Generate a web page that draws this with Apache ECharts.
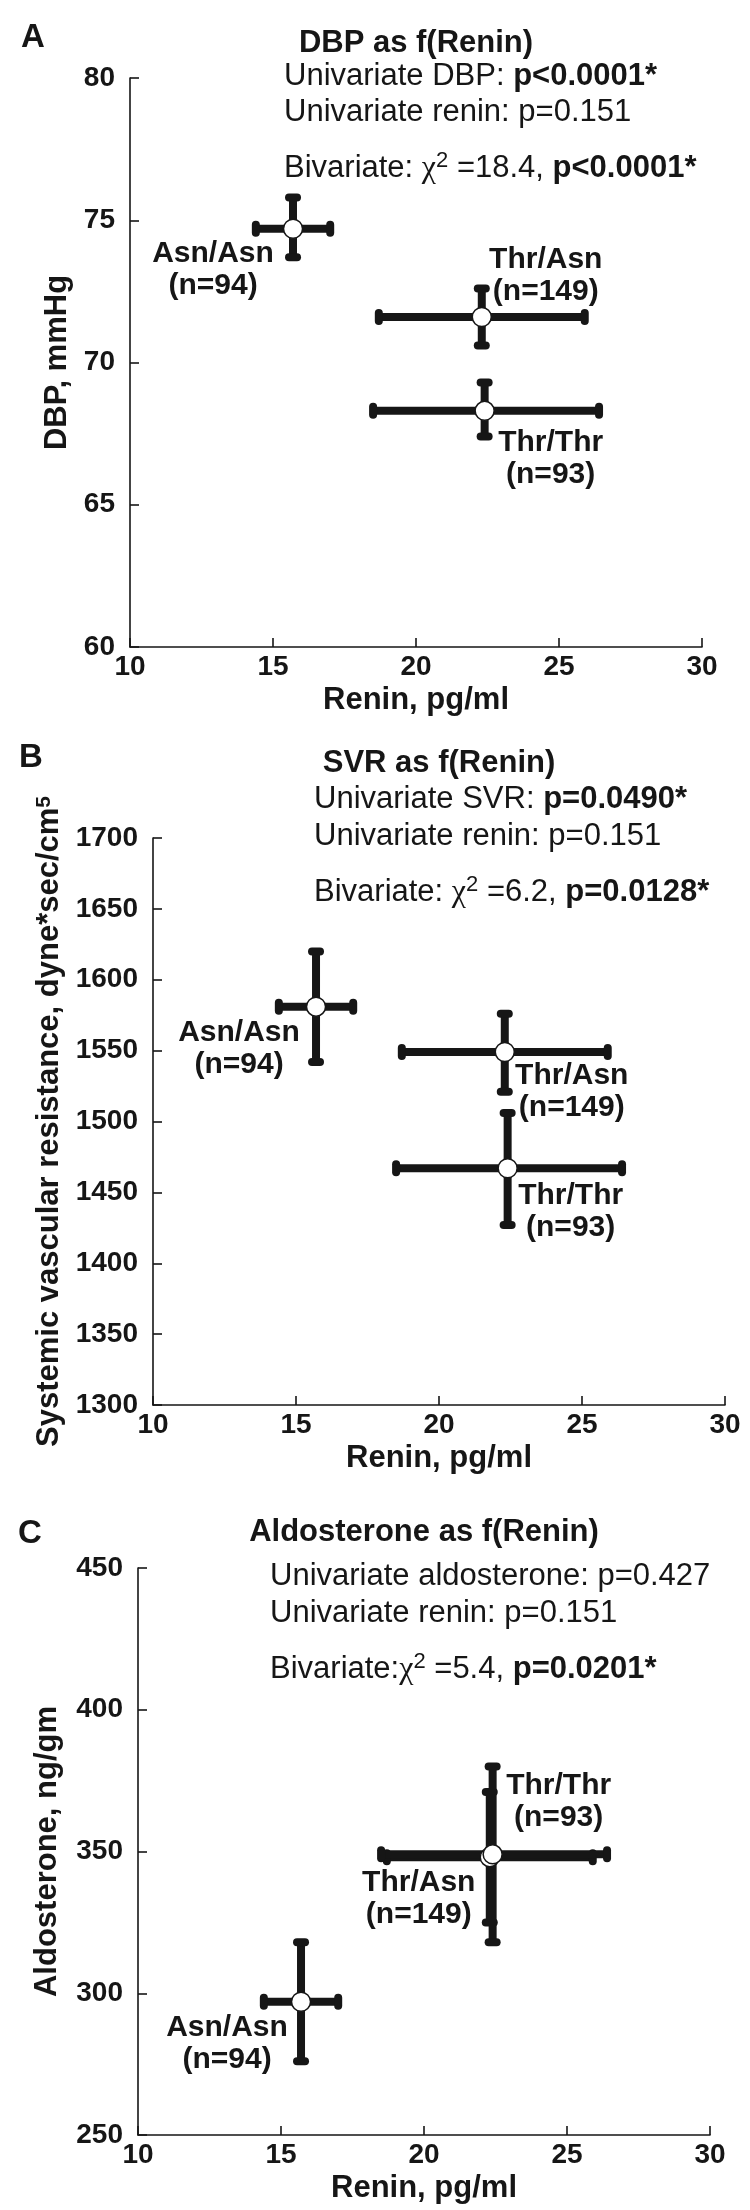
<!DOCTYPE html>
<html>
<head>
<meta charset="utf-8">
<title>DBP, SVR and aldosterone as f(Renin)</title>
<script src="https://cdn.jsdelivr.net/npm/echarts@6/dist/echarts.min.js"></script>
<style>
  html, body { margin: 0; padding: 0; background: #fff; }
  #eChart { width: 750px; height: 2210px; }
</style>
</head>
<body>
<div id="eChart"></div>
<script>
// genotype groups
var genotypes = ['Asn/Asn', 'Thr/Asn', 'Thr/Thr'];
var groupN = [94, 149, 93];

// renin, pg/ml (mean and error bar ends)
var reninMean = [15.7, 22.3, 22.4];
var reninLow = [14.4, 18.7, 18.5];
var reninHigh = [17.0, 25.9, 26.4];

// DBP, mmHg
var dbpMean = [74.7, 71.6, 68.3];
var dbpLow = [73.7, 70.6, 67.4];
var dbpHigh = [75.8, 72.6, 69.3];

// SVR, dyne*sec/cm5
var svrMean = [1581, 1549, 1467];
var svrLow = [1542, 1521, 1427];
var svrHigh = [1620, 1576, 1506];

// aldosterone, ng/gm
var aldoMean = [297, 348, 349];
var aldoLow = [276, 325, 318];
var aldoHigh = [318, 371, 380];

// axis ranges
var reninAxis = [10, 30, 5];
var dbpAxis = [60, 80, 5];
var svrAxis = [1300, 1700, 50];
var aldoAxis = [250, 450, 50];

// stats text
var statsA = ['Univariate DBP: {b|p<0.0001*}', 'Univariate renin: p=0.151', 'Bivariate: {chi|\u03c7}{sup|2} =18.4, {b|p<0.0001*}'];
var statsB = ['Univariate SVR: {b|p=0.0490*}', 'Univariate renin: p=0.151', 'Bivariate: {chi|\u03c7}{sup|2} =6.2, {b|p=0.0128*}'];
var statsC = ['Univariate aldosterone: p=0.427', 'Univariate renin: p=0.151', 'Bivariate:{chi|\u03c7}{sup|2} =5.4, {b|p=0.0201*}'];

var FONT = "'Liberation Sans', Arial, Helvetica, sans-serif";
var INK = '#161616';

var panels = [
    {
        letter: 'A', title: 'DBP as f(Renin)', yName: 'DBP, mmHg',
        mean: dbpMean, low: dbpLow, high: dbpHigh, yAxis: dbpAxis, stats: statsA,
        grid: { left: 130, top: 78, width: 572, height: 569 },
        nameGap: 55, letterPos: [33, 20], titleY: 25, statsX: 284, statsY: [58, 94, 150],
        offsets: [[-80, 41], [64, -41], [66, 48]]
    },
    {
        letter: 'B', title: 'SVR as f(Renin)', yName: 'Systemic vascular resistance, dyne*sec/cm{sup|5}',
        mean: svrMean, low: svrLow, high: svrHigh, yAxis: svrAxis, stats: statsB,
        grid: { left: 153, top: 838, width: 572, height: 567 },
        nameGap: 86, letterPos: [31, 740], titleY: 745, statsX: 314, statsY: [781, 818, 874],
        offsets: [[-77, 42], [67, 40], [63, 43]]
    },
    {
        letter: 'C', title: 'Aldosterone as f(Renin)', yName: 'Aldosterone, ng/gm',
        mean: aldoMean, low: aldoLow, high: aldoHigh, yAxis: aldoAxis, stats: statsC,
        grid: { left: 138, top: 1568, width: 572, height: 567 },
        nameGap: 75, letterPos: [30, 1516], titleY: 1514, statsX: 270, statsY: [1558, 1595, 1651],
        offsets: [[-74, 42], [-71, 42], [66, -53]]
    }
];

function makeRender(offsets) {
    return function (params, api) {
        var off = offsets[params.dataIndex];
        var c = api.coord([api.value(0), api.value(1)]);
        var l = api.coord([api.value(2), api.value(1)]);
        var r = api.coord([api.value(3), api.value(1)]);
        var b = api.coord([api.value(0), api.value(4)]);
        var t = api.coord([api.value(0), api.value(5)]);
        var bar = { stroke: INK, lineWidth: 8 };
        var cap = { stroke: INK, lineWidth: 8, lineCap: 'round' };
        var h = 4;
        return {
            type: 'group',
            children: [
                { type: 'line', shape: { x1: l[0], y1: l[1], x2: r[0], y2: r[1] }, style: bar },
                { type: 'line', shape: { x1: t[0], y1: t[1], x2: b[0], y2: b[1] }, style: bar },
                { type: 'line', shape: { x1: l[0], y1: l[1] - h, x2: l[0], y2: l[1] + h }, style: cap },
                { type: 'line', shape: { x1: r[0], y1: r[1] - h, x2: r[0], y2: r[1] + h }, style: cap },
                { type: 'line', shape: { x1: t[0] - h, y1: t[1], x2: t[0] + h, y2: t[1] }, style: cap },
                { type: 'line', shape: { x1: b[0] - h, y1: b[1], x2: b[0] + h, y2: b[1] }, style: cap },
                { type: 'circle', z2: 10, shape: { cx: c[0], cy: c[1], r: 9.5 }, style: { fill: '#fff', stroke: INK, lineWidth: 1.5 } },
                {
                    type: 'text', z2: 11, x: c[0] + off[0], y: c[1] + off[1],
                    style: {
                        text: genotypes[params.dataIndex] + '\n(n=' + groupN[params.dataIndex] + ')',
                        fill: INK, fontFamily: FONT, fontWeight: 'bold', fontSize: 30, lineHeight: 32,
                        align: 'center', verticalAlign: 'middle'
                    }
                }
            ]
        };
    };
}

var richStats = {
    b: { fontFamily: FONT, fontSize: 31, fontWeight: 'bold', color: INK, lineHeight: 37 },
    chi: { fontFamily: "'Liberation Serif', 'DejaVu Serif', serif", fontSize: 32, color: INK, lineHeight: 37 },
    sup: { fontFamily: FONT, fontSize: 22, color: INK, lineHeight: 22, verticalAlign: 'top' }
};

var option = {
    backgroundColor: '#fff',
    animation: false,
    title: [],
    grid: [],
    xAxis: [],
    yAxis: [],
    series: []
};

panels.forEach(function (p, k) {
    option.grid.push(p.grid);
    var cx = p.grid.left + p.grid.width / 2;

    option.title.push({
        text: p.letter, left: p.letterPos[0], top: p.letterPos[1], textAlign: 'center', padding: 0,
        textStyle: { fontFamily: FONT, fontSize: 33, fontWeight: 'bold', color: INK, lineHeight: 36 }
    });
    option.title.push({
        text: p.title, left: cx, top: p.titleY, textAlign: 'center', padding: 0,
        textStyle: { fontFamily: FONT, fontSize: 31, fontWeight: 'bold', color: INK, lineHeight: 36 }
    });
    p.stats.forEach(function (line, j) {
        option.title.push({
            text: line, left: p.statsX, top: p.statsY[j], padding: 0,
            textStyle: { fontFamily: FONT, fontSize: 31, fontWeight: 'normal', color: INK, lineHeight: 37, rich: richStats }
        });
    });

    option.xAxis.push({
        type: 'value', gridIndex: k,
        min: reninAxis[0], max: reninAxis[1], interval: reninAxis[2],
        name: 'Renin, pg/ml', nameLocation: 'middle', nameGap: 38,
        nameTextStyle: { fontFamily: FONT, fontSize: 31, fontWeight: 'bold', color: INK },
        axisLine: { lineStyle: { color: INK, width: 1.6 } },
        axisTick: { inside: true, length: 9, lineStyle: { color: INK, width: 1.6 } },
        axisLabel: { margin: 6, fontFamily: FONT, fontSize: 28, fontWeight: 'bold', color: INK },
        splitLine: { show: false }
    });
    option.yAxis.push({
        type: 'value', gridIndex: k,
        min: p.yAxis[0], max: p.yAxis[1], interval: p.yAxis[2],
        name: p.yName, nameLocation: 'middle', nameGap: p.nameGap,
        nameTextStyle: {
            fontFamily: FONT, fontSize: 31, fontWeight: 'bold', color: INK,
            rich: { sup: { fontFamily: FONT, fontSize: 21, fontWeight: 'bold', color: INK, verticalAlign: 'top', lineHeight: 18 } }
        },
        axisLine: { lineStyle: { color: INK, width: 1.6 } },
        axisTick: { inside: true, length: 9, lineStyle: { color: INK, width: 1.6 } },
        axisLabel: {
            margin: 15, fontFamily: FONT, fontSize: 28, fontWeight: 'bold', color: INK,
            formatter: function (v) { return String(v); }
        },
        splitLine: { show: false }
    });

    var data = genotypes.map(function (g, i) {
        return [reninMean[i], p.mean[i], reninLow[i], reninHigh[i], p.low[i], p.high[i]];
    });
    option.series.push({
        type: 'custom', name: p.title, xAxisIndex: k, yAxisIndex: k,
        renderItem: makeRender(p.offsets),
        encode: { x: [0, 2, 3], y: [1, 4, 5] },
        data: data,
        clip: false
    });
});

var _eChart = echarts.init(document.getElementById('eChart'), null, { renderer: 'canvas' });
_eChart.setOption(option);
</script>
</body>
</html>
